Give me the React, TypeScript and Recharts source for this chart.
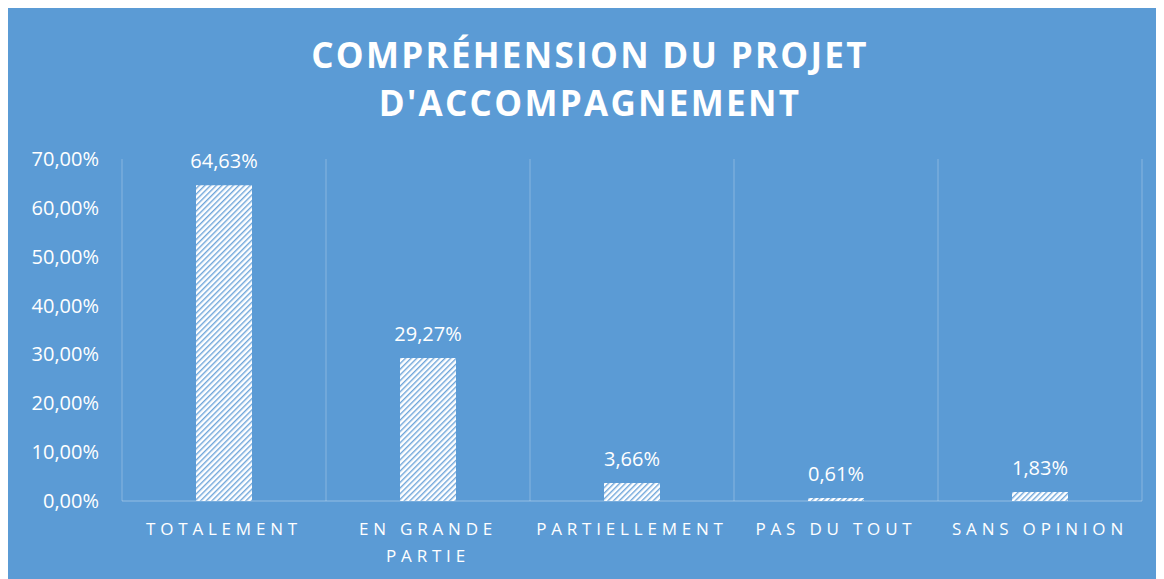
import React from 'react';
import { BarChart, Bar, XAxis, YAxis, CartesianGrid, LabelList } from 'recharts';

const categories = ['TOTALEMENT', 'EN GRANDE PARTIE', 'PARTIELLEMENT', 'PAS DU TOUT', 'SANS OPINION'];
const percentages = [64.63, 29.27, 3.66, 0.61, 1.83];
const yTicks = [0, 10, 20, 30, 40, 50, 60, 70];
const titleLines = ['COMPRÉHENSION DU PROJET', "D'ACCOMPAGNEMENT"];

const data = categories.map((name, i) => ({ name, value: percentages[i] }));

const BG = '#5B9BD5';
const FONT = '"Open Sans", sans-serif';

const fmt = (v: number) => v.toFixed(2).replace('.', ',') + '%';

// wrap long category names onto two lines, like the original
const wrapLabel = (label: string) => {
  if (label.length <= 14) return [label];
  const words = label.split(' ');
  const lines: string[] = [];
  let cur = '';
  words.forEach(w => {
    const next = cur ? cur + ' ' + w : w;
    if (next.length > 10 && cur) {
      lines.push(cur);
      cur = w;
    } else {
      cur = next;
    }
  });
  if (cur) lines.push(cur);
  return lines;
};

const CategoryTick = (props: any) => {
  const { x, y, payload } = props;
  const lines = wrapLabel(payload.value);
  return (
    <text x={x} y={y + 26} textAnchor="middle" fill="#fff" fontSize={17} fontFamily={FONT} letterSpacing={4.8}>
      {lines.map((l, i) => (
        <tspan key={i} x={x} dy={i === 0 ? 0 : 27}>{l}</tspan>
      ))}
    </text>
  );
};

const PercentTick = (props: any) => {
  const { x, y, payload } = props;
  return (
    <text x={x - 15} y={y + 7} textAnchor="end" fill="#fff" fontSize={20} fontFamily={FONT}>
      {fmt(payload.value)}
    </text>
  );
};

export default function App() {
  return (
    <div style={{ position: 'relative', width: 1156, height: 571, background: BG }}>
      <div
        style={{
          position: 'absolute',
          top: 23,
          left: 0,
          width: 1164,
          textAlign: 'center',
          color: '#fff',
          fontFamily: FONT,
          fontWeight: 700,
          fontSize: 35,
          letterSpacing: 2.3,
          lineHeight: '48px',
        }}
      >
        {titleLines.map((t, i) => (
          <div key={i}>{t}</div>
        ))}
      </div>
      <BarChart
        width={1156}
        height={571}
        data={data}
        margin={{ top: 151, right: 22, bottom: 0, left: 0 }}
        barCategoryGap={74}
      >
        <defs>
          <pattern id="hatch" width="4" height="4" patternUnits="userSpaceOnUse" patternTransform="rotate(45)">
            <rect width="4" height="4" fill="#fff" />
            <rect width="1.4" height="4" fill="#6FA6DA" />
          </pattern>
        </defs>
        <CartesianGrid
          horizontal={false}
          stroke="rgba(255,255,255,0.28)"
          verticalCoordinatesGenerator={({ offset }: any) =>
            categories.concat(['']).map((_, i) => offset.left + (i * offset.width) / categories.length)
          }
        />
        <XAxis
          dataKey="name"
          interval={0}
          height={78}
          tickLine={false}
          axisLine={{ stroke: 'rgba(255,255,255,0.35)' }}
          tick={<CategoryTick />}
        />
        <YAxis
          width={114}
          domain={[0, 70]}
          ticks={yTicks}
          axisLine={false}
          tickLine={false}
          tick={<PercentTick />}
        />
        <Bar dataKey="value" fill="url(#hatch)" barSize={56} isAnimationActive={false}>
          <LabelList
            dataKey="value"
            position="top"
            offset={17}
            fill="#fff"
            fontSize={20}
            fontFamily={FONT}
            formatter={(v: any) => fmt(Number(v))}
          />
        </Bar>
      </BarChart>
    </div>
  );
}
